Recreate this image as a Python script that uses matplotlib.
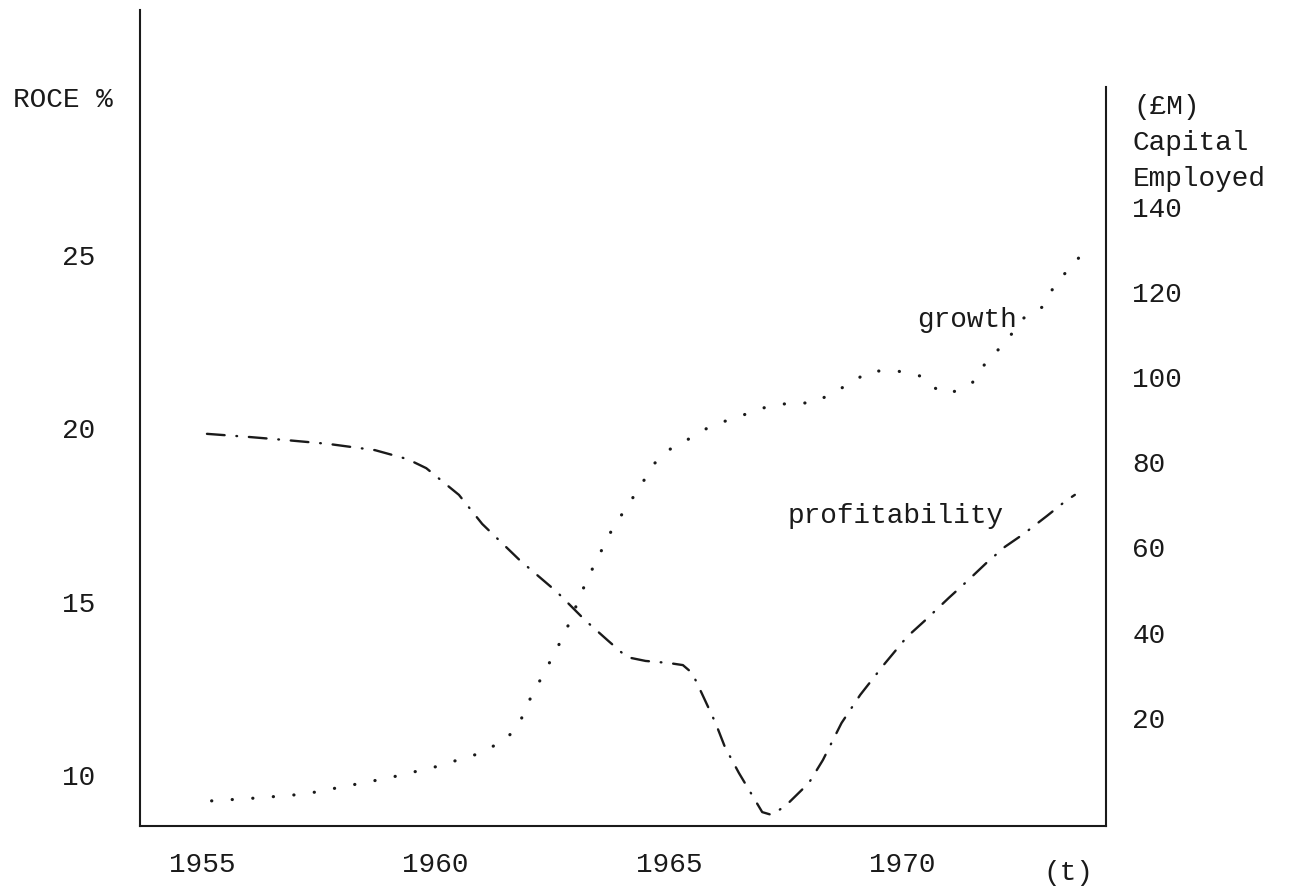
import matplotlib
matplotlib.use('Agg')
import matplotlib.pyplot as plt

# profitability: return on capital employed, % (left axis)
prof_year = [1955.1, 1956.0, 1956.8, 1957.7, 1958.7, 1959.4, 1959.8, 1960.5,
             1961.0, 1961.8, 1962.6, 1963.2, 1963.7, 1964.1, 1964.5, 1965.0,
             1965.3, 1965.5, 1965.7, 1966.0, 1966.2, 1966.5, 1967.0, 1967.2,
             1967.5, 1968.0, 1968.3, 1968.7, 1969.1, 1969.6, 1970.1, 1970.5,
             1971.0, 1971.4, 1971.8, 1972.2, 1972.6, 1973.1, 1973.5, 1973.7]
prof_roce = [19.84, 19.75, 19.66, 19.55, 19.37, 19.11, 18.85, 18.08,
             17.24, 16.20, 15.28, 14.47, 13.87, 13.40, 13.29, 13.23,
             13.17, 12.94, 12.37, 11.50, 10.81, 10.06, 8.93, 8.85,
             9.11, 9.77, 10.43, 11.50, 12.31, 13.17, 13.98, 14.47,
             15.11, 15.60, 16.11, 16.58, 16.95, 17.47, 17.90, 18.08]

# growth: capital employed, £M (right axis)
growth_year = [1955.2, 1956.2, 1957.2, 1958.1, 1959.0, 1960.0, 1960.9, 1961.5,
               1961.8, 1962.0, 1962.6, 1962.9, 1963.1, 1963.4, 1963.8, 1964.1,
               1964.4, 1964.7, 1965.0, 1965.5, 1965.9, 1966.6, 1967.1, 1967.6,
               1968.1, 1968.5, 1968.9, 1969.3, 1969.9, 1970.4, 1970.7, 1971.0,
               1971.5, 1971.8, 1972.2, 1972.6, 1973.0, 1973.3, 1973.7, 1974.0]
growth_cap = [0.5, 1.2, 2.1, 4.0, 5.9, 8.5, 11.5, 14.8,
              18.8, 23.9, 36.2, 43.0, 48.8, 55.9, 64.6, 69.5,
              74.6, 79.8, 82.9, 85.9, 88.5, 91.1, 93.0, 93.9,
              93.9, 96.2, 98.6, 101.4, 101.4, 100.2, 97.4, 96.0,
              98.6, 103.5, 108.0, 113.8, 116.4, 122.1, 126.8, 131.0]

year_ticks = [1955, 1960, 1965, 1970]
roce_ticks = [10, 15, 20, 25]
cap_ticks = [20, 40, 60, 80, 100, 120, 140]

plt.rcParams['font.family'] = ['Liberation Mono', 'DejaVu Sans Mono']
ink = '#1a1a1a'
fs = 20

fig = plt.figure(figsize=(12.94, 8.91), dpi=100)
ax = fig.add_axes([140 / 1294, 65 / 891, 966 / 1294, 816 / 891])
ax2 = ax.twinx()

ax.plot(prof_year, prof_roce, color=ink, lw=1.7,
        linestyle=(0, (7.5, 5.0, 0.3, 5.0)), dash_capstyle='round')
ax2.plot(growth_year, growth_cap, color=ink, lw=2.3,
         linestyle=(0, (0.05, 6.4)), dash_capstyle='round')

ax.set_xlim(1953.665, 1974.368)
ax.set_ylim(8.529, 32.065)
ax2.set_ylim(-5.40, 186.15)

ax.set_xticks(year_ticks)
ax.set_yticks(roce_ticks)
ax2.set_yticks(cap_ticks)

ax.tick_params(axis='x', length=0, pad=19, labelsize=fs, colors=ink)
ax.tick_params(axis='y', length=0, pad=32, labelsize=fs, colors=ink)
ax2.tick_params(axis='y', length=0, pad=19, labelsize=fs, colors=ink)

for s in ['top', 'right']:
    ax.spines[s].set_visible(False)
for s in ['top', 'left', 'bottom']:
    ax2.spines[s].set_visible(False)
for a in (ax, ax2):
    for s in a.spines.values():
        s.set_linewidth(1.5)
        s.set_color(ink)
ax2.spines['right'].set_bounds(-5.40, 168)

ax2.text(1971.39, 113.4, 'growth', ha='center', va='center',
         fontsize=fs, color=ink)
ax.text(1969.85, 17.47, 'profitability', ha='center', va='center',
        fontsize=fs, color=ink)

fig.text(13 / 1294, 1 - 100 / 891, 'ROCE %', ha='left', va='center',
         fontsize=fs, color=ink)
for label, ypix in [('(£M)', 107), ('Capital', 143), ('Employed', 179)]:
    fig.text(1133 / 1294, 1 - ypix / 891, label, ha='left', va='center',
             fontsize=fs, color=ink)
fig.text(1068 / 1294, 1 - 873 / 891, '(t)', ha='center', va='center',
         fontsize=fs, color=ink)

fig.savefig('out.png', dpi=100, facecolor='white')
